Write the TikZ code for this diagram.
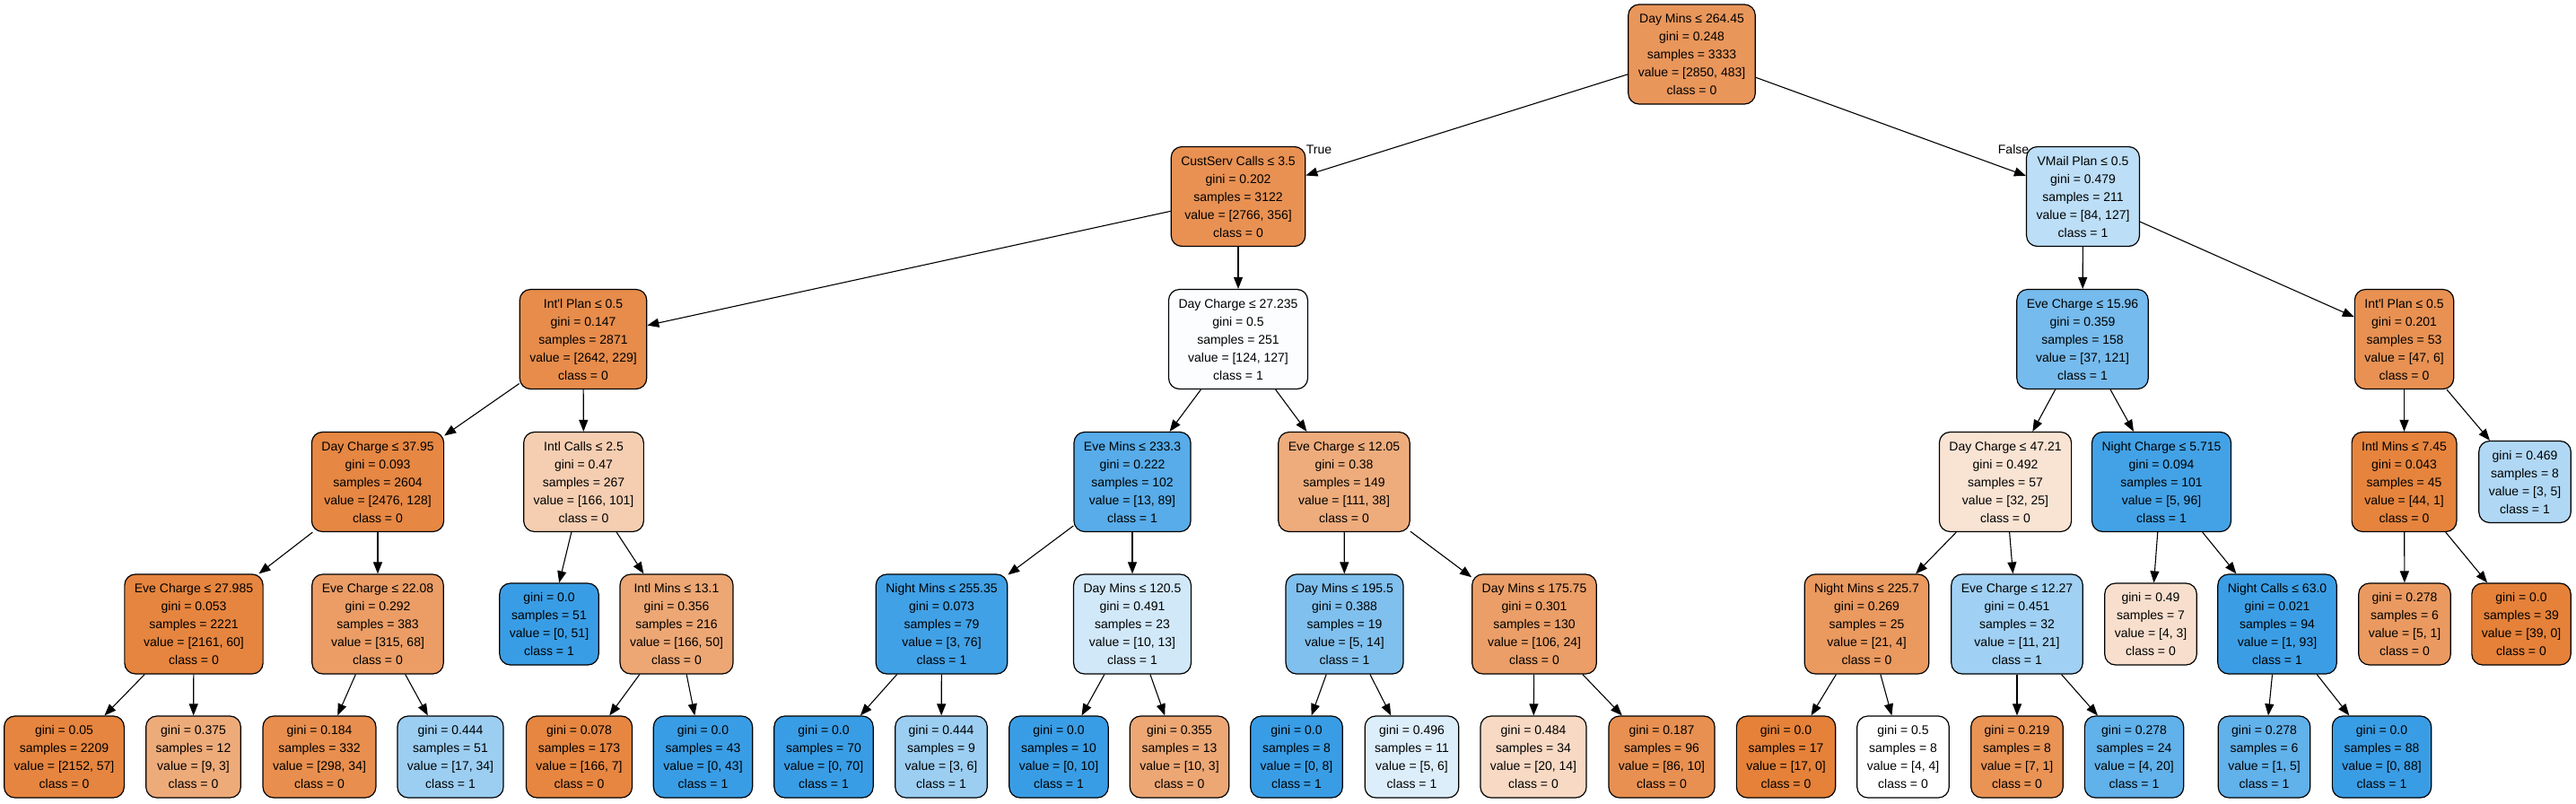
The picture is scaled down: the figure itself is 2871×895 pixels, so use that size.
\documentclass[tikz,border=0pt]{standalone}
\usepackage{fontspec}
\setmainfont{Liberation Sans}
\usetikzlibrary{arrows.meta}
\definecolor{c0}{RGB}{229,129,57}
\definecolor{c1}{RGB}{57,157,229}

\begin{document}
\begin{tikzpicture}[x=1pt, y=-1pt,
  box/.style={rectangle, rounded corners=12pt, draw=black, line width=1.2pt, align=center,
    font=\fontsize{14}{20}\selectfont, inner xsep=11pt, inner ysep=0pt},
  splitbox/.style={box, minimum height=111pt},
  leafbox/.style={box, minimum height=91pt},
  branch/.style={-{Triangle[length=13pt,width=10pt]}, line width=1.1pt},
  lbl/.style={font=\fontsize{14}{20}\selectfont, inner sep=0pt}]
  \useasboundingbox (0,0) rectangle (2871,895);

  \node (root) [splitbox, fill=c0!83] at (1885.5,60.5) {Day Mins ≤ 264.45\\gini = 0.248\\samples = 3333\\value = [2850, 483]\\class = 0};

  \node (custserv) [splitbox, fill=c0!87] at (1380,219) {CustServ Calls ≤ 3.5\\gini = 0.202\\samples = 3122\\value = [2766, 356]\\class = 0};
  \node (vmail) [splitbox, fill=c1!34] at (2321.5,219) {VMail Plan ≤ 0.5\\gini = 0.479\\samples = 211\\value = [84, 127]\\class = 1};

  \node (intlplan) [splitbox, fill=c0!91] at (650,378) {Int\textquotesingle l Plan ≤ 0.5\\gini = 0.147\\samples = 2871\\value = [2642, 229]\\class = 0};
  \node (daycharge) [splitbox, fill=c1!2] at (1380,378) {Day Charge ≤ 27.235\\gini = 0.5\\samples = 251\\value = [124, 127]\\class = 1};
  \node (evecharge) [splitbox, fill=c1!69] at (2321,378) {Eve Charge ≤ 15.96\\gini = 0.359\\samples = 158\\value = [37, 121]\\class = 1};
  \node (intlplan2) [splitbox, fill=c0!87] at (2679.5,378) {Int\textquotesingle l Plan ≤ 0.5\\gini = 0.201\\samples = 53\\value = [47, 6]\\class = 0};

  \node (daycharge2) [splitbox, fill=c0!95] at (421,537) {Day Charge ≤ 37.95\\gini = 0.093\\samples = 2604\\value = [2476, 128]\\class = 0};
  \node (intlcalls) [splitbox, fill=c0!39] at (650.5,537) {Intl Calls ≤ 2.5\\gini = 0.47\\samples = 267\\value = [166, 101]\\class = 0};
  \node (evemins) [splitbox, fill=c1!85] at (1262,537) {Eve Mins ≤ 233.3\\gini = 0.222\\samples = 102\\value = [13, 89]\\class = 1};
  \node (evecharge2) [splitbox, fill=c0!66] at (1498,537) {Eve Charge ≤ 12.05\\gini = 0.38\\samples = 149\\value = [111, 38]\\class = 0};
  \node (daycharge3) [splitbox, fill=c0!22] at (2235,537) {Day Charge ≤ 47.21\\gini = 0.492\\samples = 57\\value = [32, 25]\\class = 0};
  \node (nightcharge) [splitbox, fill=c1!95] at (2409,537) {Night Charge ≤ 5.715\\gini = 0.094\\samples = 101\\value = [5, 96]\\class = 1};
  \node (intlmins2) [splitbox, fill=c0!98] at (2679.5,537) {Intl Mins ≤ 7.45\\gini = 0.043\\samples = 45\\value = [44, 1]\\class = 0};
  \node (leafr) [leafbox, fill=c1!40] at (2814,537) {gini = 0.469\\samples = 8\\value = [3, 5]\\class = 1};

  \node (evecharge3) [splitbox, fill=c0!97] at (216,695.5) {Eve Charge ≤ 27.985\\gini = 0.053\\samples = 2221\\value = [2161, 60]\\class = 0};
  \node (evecharge4) [splitbox, fill=c0!78] at (421,695.5) {Eve Charge ≤ 22.08\\gini = 0.292\\samples = 383\\value = [315, 68]\\class = 0};
  \node (leafa) [leafbox, fill=c1] at (612,695.5) {gini = 0.0\\samples = 51\\value = [0, 51]\\class = 1};
  \node (intlmins) [splitbox, fill=c0!70] at (754,695.5) {Intl Mins ≤ 13.1\\gini = 0.356\\samples = 216\\value = [166, 50]\\class = 0};
  \node (nightmins) [splitbox, fill=c1!96] at (1049.5,695.5) {Night Mins ≤ 255.35\\gini = 0.073\\samples = 79\\value = [3, 76]\\class = 1};
  \node (daymins) [splitbox, fill=c1!23] at (1262,695.5) {Day Mins ≤ 120.5\\gini = 0.491\\samples = 23\\value = [10, 13]\\class = 1};
  \node (daymins2) [splitbox, fill=c1!64] at (1498.5,695.5) {Day Mins ≤ 195.5\\gini = 0.388\\samples = 19\\value = [5, 14]\\class = 1};
  \node (daymins3) [splitbox, fill=c0!77] at (1710,695.5) {Day Mins ≤ 175.75\\gini = 0.301\\samples = 130\\value = [106, 24]\\class = 0};
  \node (nightmins2) [splitbox, fill=c0!81] at (2080.5,695.5) {Night Mins ≤ 225.7\\gini = 0.269\\samples = 25\\value = [21, 4]\\class = 0};
  \node (evecharge5) [splitbox, fill=c1!48] at (2248,695.5) {Eve Charge ≤ 12.27\\gini = 0.451\\samples = 32\\value = [11, 21]\\class = 1};
  \node (leafb) [leafbox, fill=c0!25] at (2397,695.5) {gini = 0.49\\samples = 7\\value = [4, 3]\\class = 0};
  \node (nightcalls) [splitbox, fill=c1!99] at (2538,695.5) {Night Calls ≤ 63.0\\gini = 0.021\\samples = 94\\value = [1, 93]\\class = 1};
  \node (leafc) [leafbox, fill=c0!80] at (2680,695.5) {gini = 0.278\\samples = 6\\value = [5, 1]\\class = 0};
  \node (leafd) [leafbox, fill=c0] at (2810,695.5) {gini = 0.0\\samples = 39\\value = [39, 0]\\class = 0};

  \node (l1) [leafbox, fill=c0!97] at (71.5,843.5) {gini = 0.05\\samples = 2209\\value = [2152, 57]\\class = 0};
  \node (l2) [leafbox, fill=c0!67] at (215.5,843.5) {gini = 0.375\\samples = 12\\value = [9, 3]\\class = 0};
  \node (l3) [leafbox, fill=c0!89] at (356,843.5) {gini = 0.184\\samples = 332\\value = [298, 34]\\class = 0};
  \node (l4) [leafbox, fill=c1!50] at (502,843.5) {gini = 0.444\\samples = 51\\value = [17, 34]\\class = 1};
  \node (l5) [leafbox, fill=c0!96] at (645.5,843.5) {gini = 0.078\\samples = 173\\value = [166, 7]\\class = 0};
  \node (l6) [leafbox, fill=c1] at (783.5,843.5) {gini = 0.0\\samples = 43\\value = [0, 43]\\class = 1};
  \node (l7) [leafbox, fill=c1] at (918,843.5) {gini = 0.0\\samples = 70\\value = [0, 70]\\class = 1};
  \node (l8) [leafbox, fill=c1!50] at (1049,843.5) {gini = 0.444\\samples = 9\\value = [3, 6]\\class = 1};
  \node (l9) [leafbox, fill=c1] at (1180,843.5) {gini = 0.0\\samples = 10\\value = [0, 10]\\class = 1};
  \node (l10) [leafbox, fill=c0!70] at (1314.5,843.5) {gini = 0.355\\samples = 13\\value = [10, 3]\\class = 0};
  \node (l11) [leafbox, fill=c1] at (1445,843.5) {gini = 0.0\\samples = 8\\value = [0, 8]\\class = 1};
  \node (l12) [leafbox, fill=c1!17] at (1573.5,843.5) {gini = 0.496\\samples = 11\\value = [5, 6]\\class = 1};
  \node (l13) [leafbox, fill=c0!30] at (1709,843.5) {gini = 0.484\\samples = 34\\value = [20, 14]\\class = 0};
  \node (l14) [leafbox, fill=c0!88] at (1852,843.5) {gini = 0.187\\samples = 96\\value = [86, 10]\\class = 0};
  \node (l15) [leafbox, fill=c0] at (1990.5,843.5) {gini = 0.0\\samples = 17\\value = [17, 0]\\class = 0};
  \node (l16) [leafbox, fill=white] at (2121,843.5) {gini = 0.5\\samples = 8\\value = [4, 4]\\class = 0};
  \node (l17) [leafbox, fill=c0!86] at (2248,843.5) {gini = 0.219\\samples = 8\\value = [7, 1]\\class = 0};
  \node (l18) [leafbox, fill=c1!80] at (2378.5,843.5) {gini = 0.278\\samples = 24\\value = [4, 20]\\class = 1};
  \node (l19) [leafbox, fill=c1!80] at (2523.5,843.5) {gini = 0.278\\samples = 6\\value = [1, 5]\\class = 1};
  \node (l20) [leafbox, fill=c1] at (2654.5,843.5) {gini = 0.0\\samples = 88\\value = [0, 88]\\class = 1};

  \node (truelbl) [lbl] at (1470,167) {True};
  \node (falselbl) [lbl] at (2244,166) {False};

  \foreach \a/\b in {root/custserv, root/vmail,
    custserv/intlplan, custserv/daycharge, vmail/evecharge, vmail/intlplan2,
    intlplan/daycharge2, intlplan/intlcalls, daycharge/evemins, daycharge/evecharge2,
    evecharge/daycharge3, evecharge/nightcharge, intlplan2/intlmins2, intlplan2/leafr,
    daycharge2/evecharge3, daycharge2/evecharge4, intlcalls/leafa, intlcalls/intlmins,
    evemins/nightmins, evemins/daymins, evecharge2/daymins2, evecharge2/daymins3,
    daycharge3/nightmins2, daycharge3/evecharge5, nightcharge/leafb, nightcharge/nightcalls,
    intlmins2/leafc, intlmins2/leafd,
    evecharge3/l1, evecharge3/l2, evecharge4/l3, evecharge4/l4, intlmins/l5, intlmins/l6,
    nightmins/l7, nightmins/l8, daymins/l9, daymins/l10, daymins2/l11, daymins2/l12,
    daymins3/l13, daymins3/l14, nightmins2/l15, nightmins2/l16, evecharge5/l17, evecharge5/l18,
    nightcalls/l19, nightcalls/l20}
    \draw [branch] (\a) -- (\b);
\end{tikzpicture}
\end{document}
